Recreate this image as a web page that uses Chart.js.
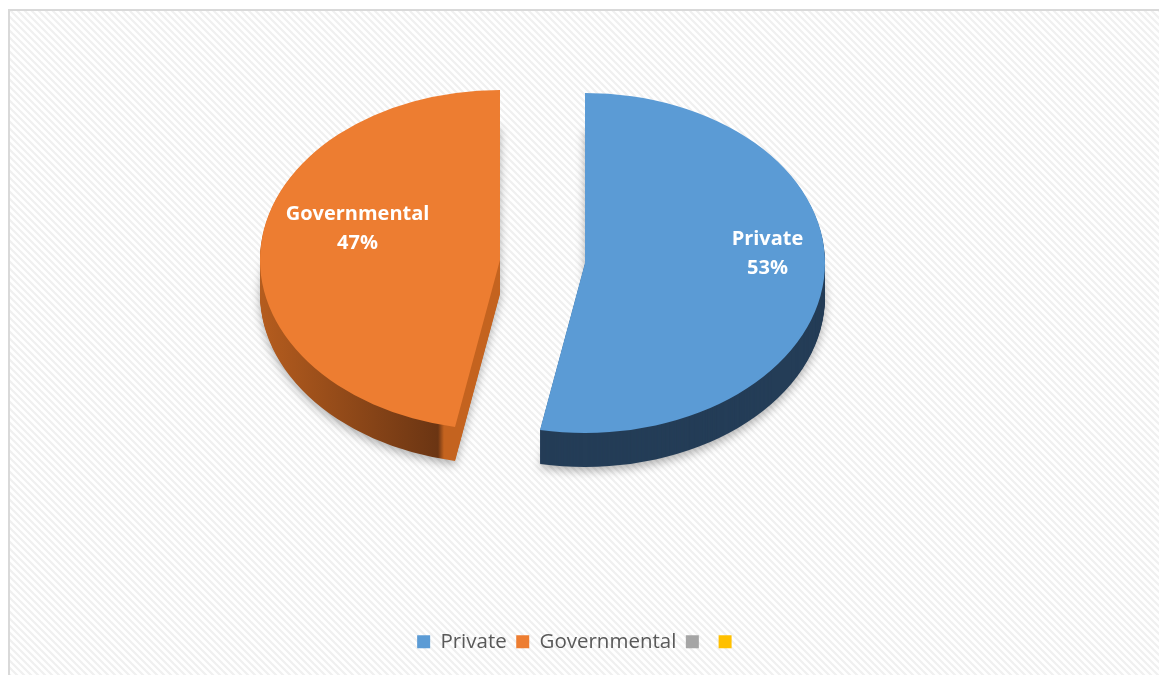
<!DOCTYPE html>
<html><head><meta charset="utf-8">
<style>html,body{margin:0;padding:0;background:#fff;}canvas{display:block;}</style>
<script src="https://cdn.jsdelivr.net/npm/chart.js@4.4.1/dist/chart.umd.min.js"></script>
</head><body>
<canvas id="c" width="1159" height="675"></canvas>
<script>
const categories = ['Private', 'Governmental', '', ''];
const shares = [53, 47, 0, 0];
const topColors = ['#5B9BD5', '#ED7D31', '#A5A5A5', '#FFC000'];

const FONT = '"Open Sans", "Noto Sans", sans-serif';
Chart.defaults.font.family = FONT;

const bgPlugin = {
  id: 'bg',
  beforeDraw(chart) {
    const ctx = chart.ctx;
    ctx.save();
    ctx.fillStyle = '#fff';
    ctx.fillRect(0, 0, chart.width, chart.height);
    const p = document.createElement('canvas');
    p.width = 7; p.height = 7;
    const pc = p.getContext('2d');
    pc.fillStyle = '#ffffff'; pc.fillRect(0, 0, 7, 7);
    pc.strokeStyle = '#f0f0f0'; pc.lineWidth = 2.2;
    pc.beginPath();
    pc.moveTo(-1, -1); pc.lineTo(8, 8);
    pc.moveTo(-8, -1); pc.lineTo(1, 8);
    pc.moveTo(6, -1); pc.lineTo(15, 8);
    pc.stroke();
    ctx.fillStyle = ctx.createPattern(p, 'repeat');
    ctx.fillRect(9, 10, chart.width - 9, chart.height - 10);
    ctx.fillStyle = '#d9d9d9';
    ctx.fillRect(8, 9, chart.width - 8, 2);
    ctx.fillRect(8, 9, 2, chart.height - 9);
    ctx.restore();
  }
};

const pie3d = {
  id: 'pie3d',
  beforeDatasetsDraw(chart, args, o) {
    const ctx = chart.ctx;
    const arcs = chart.getDatasetMeta(0).data;
    const place = (arc, i, dy) => {
      ctx.translate(o.centers[i][0], o.centers[i][1] + dy);
      ctx.scale(1, o.tilt);
      ctx.translate(-arc.x, -arc.y);
    };
    arcs.forEach((arc, i) => {
      if (!arc.circumference) return;
      const orig = arc.options;
      for (let d = o.depth; d >= 1; d--) {
        ctx.save();
        place(arc, i, d);
        let fill = o.sideColors[i];
        if (Array.isArray(fill)) {
          const x0 = fill[0][0], x1 = fill[fill.length - 1][0];
          const off = arc.x - o.centers[i][0];
          const g = ctx.createLinearGradient(x0 + off, 0, x1 + off, 0);
          fill.forEach(s => g.addColorStop((s[0] - x0) / (x1 - x0), s[1]));
          fill = g;
        }
        if (d === o.depth) {
          ctx.shadowColor = 'rgba(0,0,0,0.3)';
          ctx.shadowBlur = 10;
          ctx.shadowOffsetY = 4;
        }
        arc.options = Object.assign({}, orig, {backgroundColor: fill, borderColor: fill, borderWidth: 0});
        arc.draw(ctx);
        arc.options = orig;
        ctx.restore();
      }
    });
    arcs.forEach((arc, i) => {
      if (!arc.circumference) return;
      ctx.save();
      place(arc, i, 0);
      arc.draw(ctx);
      ctx.restore();
    });
    return false;
  },
  afterDraw(chart, args, o) {
    const ctx = chart.ctx;
    const arcs = chart.getDatasetMeta(0).data;
    const total = shares.reduce((a, b) => a + b, 0);
    ctx.save();
    ctx.fillStyle = '#ffffff';
    ctx.font = 'bold 20px ' + FONT;
    ctx.textAlign = 'center';
    ctx.textBaseline = 'middle';
    arcs.forEach((arc, i) => {
      if (!shares[i]) return;
      const mid = (arc.startAngle + arc.endAngle) / 2;
      const r = arc.outerRadius * o.labelRadius;
      const x = o.centers[i][0] + Math.cos(mid) * r + o.labelShift[0];
      const y = o.centers[i][1] + Math.sin(mid) * r * o.tilt + o.labelShift[1];
      ctx.fillText(categories[i], x, y - 14.5);
      ctx.fillText(Math.round(shares[i] / total * 100) + '%', x, y + 14.5);
    });
    ctx.restore();
  }
};

new Chart(document.getElementById('c'), {
  type: 'pie',
  data: {
    labels: categories,
    datasets: [{data: shares, backgroundColor: topColors, borderWidth: 0, radius: 240}]
  },
  options: {
    responsive: false,
    animation: false,
    layout: {padding: {bottom: 13}},
    plugins: {
      legend: {
        position: 'bottom',
        labels: {boxWidth: 13, boxHeight: 13, padding: 9.5, color: '#595959', font: {family: FONT, size: 20.5}}
      },
      tooltip: {enabled: false},
      pie3d: {
        centers: [[585, 263], [500, 260], [540, 262], [540, 262]],
        tilt: 0.708,
        depth: 34,
        sideColors: ['#243d57', [[262, '#b45c1e'], [438, '#6b3513'], [444, '#c4631f'], [520, '#c4631f']], '#7c7c7c', '#bf9000'],
        labelRadius: 0.68,
        labelShift: [20, -20]
      }
    }
  },
  plugins: [bgPlugin, pie3d]
});
</script>
</body></html>
